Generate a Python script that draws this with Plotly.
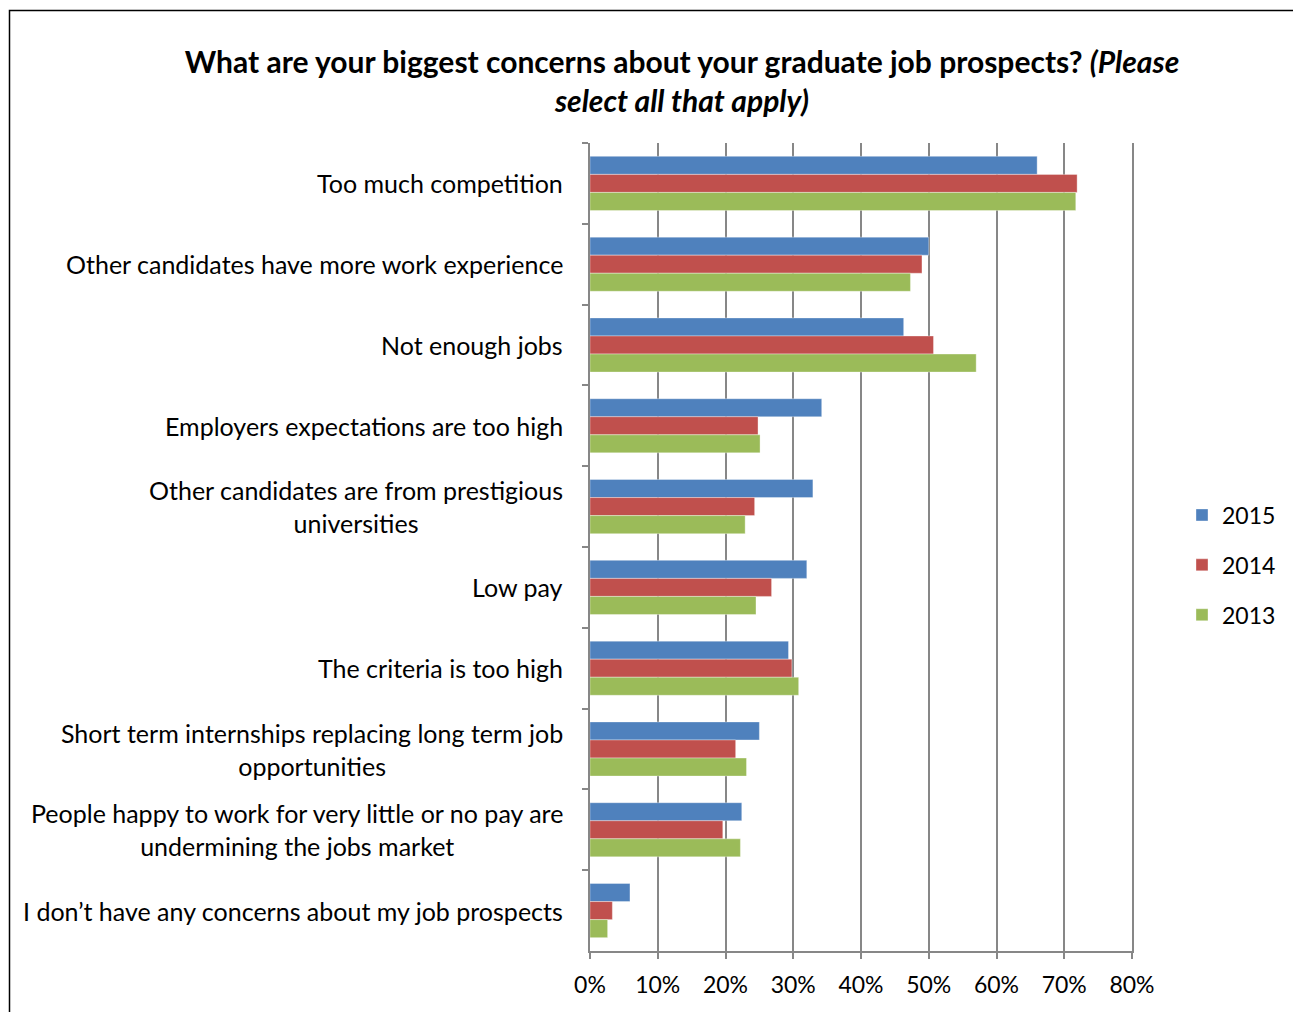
import plotly.graph_objects as go

categories = [
    "Too much competition",
    "Other candidates have more work experience",
    "Not enough jobs",
    "Employers expectations are too high",
    "Other candidates are from prestigious<br>universities",
    "Low pay",
    "The criteria is too high",
    "Short term internships replacing long term job<br>opportunities",
    "People happy to work for very little or no pay are<br>undermining the jobs market",
    "I don’t have any concerns about my job prospects",
]
series_names = ["2015", "2014", "2013"]
values_2015 = [66.0, 50.0, 46.3, 34.2, 32.9, 32.0, 29.3, 25.0, 22.4, 5.9]
values_2014 = [71.9, 49.0, 50.7, 24.8, 24.3, 26.8, 29.8, 21.5, 19.6, 3.3]
values_2013 = [71.7, 47.3, 57.0, 25.1, 22.9, 24.5, 30.8, 23.1, 22.2, 2.6]
x_ticks = [0, 10, 20, 30, 40, 50, 60, 70, 80]
x_tick_labels = [f"{v}%" for v in x_ticks]
colors = ["#4F81BD", "#C0504D", "#9BBB59"]

FONT = "Lato"
W, H = 1293, 1012
L, R, T, B = 590, 1132, 143, 951
GRID = "#878787"

fig = go.Figure()
for name, vals, col in zip(series_names, [values_2015, values_2014, values_2013], colors):
    fig.add_trace(go.Bar(
        y=categories, x=vals, name=name, orientation="h", legendgroup=name,
        marker=dict(color=col, line=dict(color="rgba(255,255,255,0.35)", width=1)),
    ))

for c in categories:
    fig.add_annotation(
        x=0, xref="paper", y=c, yref="y", text=c, showarrow=False,
        xanchor="right", yanchor="middle", align="center", xshift=-25,
        font=dict(family=FONT, size=25, color="#000000"),
    )

fig.add_shape(type="rect", xref="paper", yref="paper",
              x0=(9.5 - L) / (R - L), x1=2.0,
              y0=-1.0, y1=1 + (T - 10.5) / (B - T),
              line=dict(color="#000000", width=1.5), fillcolor="rgba(0,0,0,0)", layer="below")

fig.update_layout(
    width=W, height=H, autosize=False,
    margin=dict(l=L, r=W - R, t=T, b=H - B, pad=0, autoexpand=False),
    paper_bgcolor="white", plot_bgcolor="white",
    barmode="group", bargap=0.33, bargroupgap=0,
    title=dict(
        text="<b>What are your biggest concerns about your graduate job prospects? <i>(Please</i></b><br><b><i>select all that apply)</i></b>",
        x=682 / W, xanchor="center", y=1 - 73 / H, yanchor="middle",
        font=dict(family=FONT, size=30, color="#000000"),
    ),
    legend=dict(
        xref="container", yref="container",
        x=1182 / W, xanchor="left", y=1 - 565 / H, yanchor="middle",
        font=dict(family=FONT, size=23, color="#000000"),
        tracegroupgap=17, itemwidth=30, bgcolor="rgba(0,0,0,0)",
    ),
    xaxis=dict(
        range=[0, 80], tickvals=x_ticks, ticktext=x_tick_labels,
        showgrid=True, gridcolor=GRID, gridwidth=2,
        showline=True, linecolor=GRID, linewidth=2,
        ticks="outside", ticklen=6, tickcolor=GRID, tickwidth=2,
        ticklabelstandoff=6,
        tickfont=dict(family=FONT, size=23, color="#000000"),
        zeroline=False, fixedrange=True,
    ),
    yaxis=dict(
        autorange="reversed", showticklabels=False,
        showline=True, linecolor=GRID, linewidth=2, mirror=True,
        ticks="outside", ticklen=6, tickcolor=GRID, tickwidth=2,
        tickson="boundaries", showgrid=False, fixedrange=True,
    ),
)

fig.write_html("out.html", config={"displayModeBar": False, "responsive": False},
               post_script="document.documentElement.style.margin='0';document.body.style.margin='0';document.body.style.overflow='hidden';")
